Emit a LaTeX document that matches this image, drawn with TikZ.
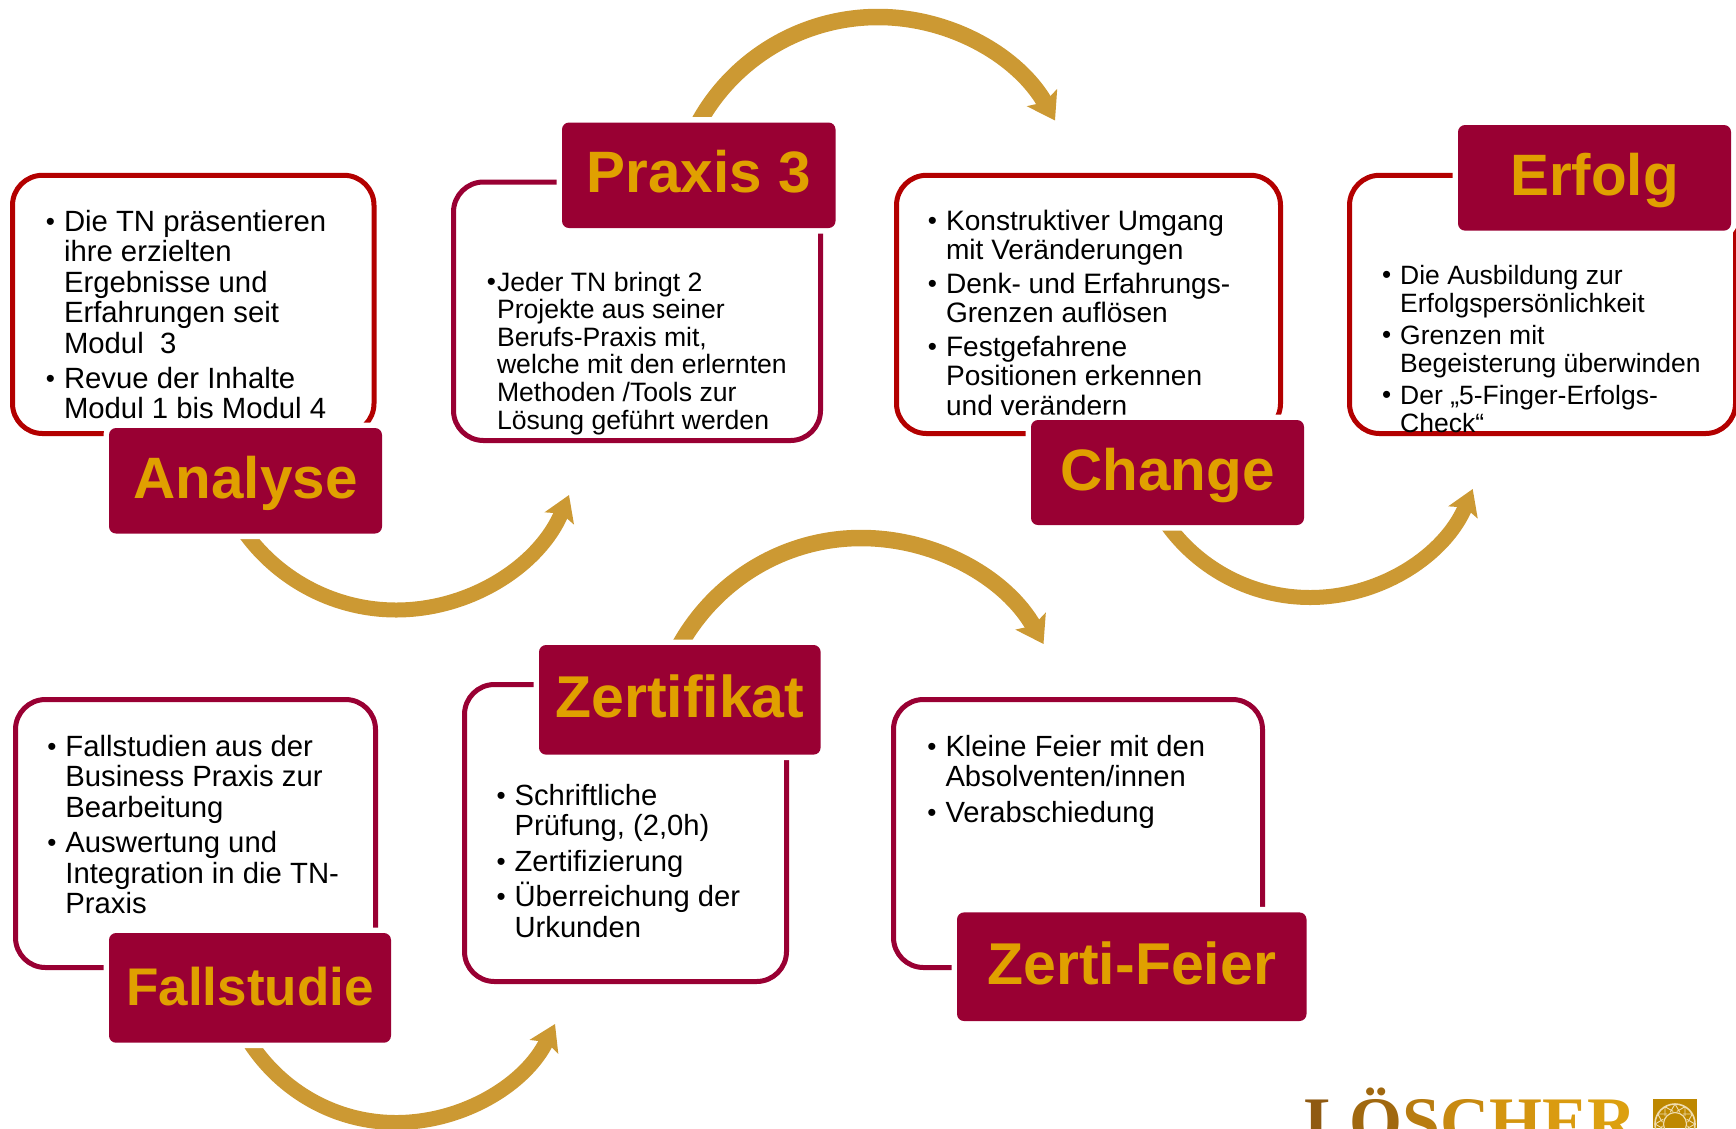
\documentclass[tikz,border=0pt]{standalone}
\usepackage{fontspec}
\setmainfont{Liberation Sans}
\newfontfamily\logofont{Liberation Serif}
\usetikzlibrary{arrows.meta}
\definecolor{crimson}{HTML}{990033}
\definecolor{darkred}{HTML}{B30000}
\definecolor{labelgold}{HTML}{E0A000}
\definecolor{arcgold}{HTML}{CC9933}
\definecolor{iconline}{HTML}{F0DDB0}
\newcommand\firstline{\rule{0pt}{20pt}}
\newcommand\smallbul{\raisebox{0.8pt}{\fontsize{26}{26}\selectfont•}}
\newcommand\bu{\llap{\smallbul\hspace{9pt}}}
\newcommand\bn{\llap{\smallbul\hspace{1pt}}}
\tikzset{
  x=1pt,y=-1pt,
  bodybox/.style={draw,rectangle,rounded corners=30pt,line width=5pt,inner sep=0pt,outer sep=0pt},
  labelbox/.style={rectangle,rounded corners=7pt,fill=crimson,text=labelgold,inner sep=0pt,outer sep=0pt,
    font=\bfseries\fontsize{58.4}{60}\selectfont,text height=35pt,text depth=0pt,
    preaction={draw=white,line width=11pt}},
  bodytext/.style={anchor=north west,inner sep=0pt,outer sep=0pt,align=left,text=black},
  thinarc/.style={draw=arcgold,line width=15pt,-{Stealth[length=25pt,width=31pt,inset=5pt]}},
  widearc/.style={draw=arcgold,line width=16.5pt,-{Stealth[length=26pt,width=34pt,inset=5pt]}},
}
\begin{document}
\begin{tikzpicture}
\useasboundingbox (0,0) rectangle (1736,1128);

% outlines
\node[bodybox,draw=darkred,minimum width=361.5pt,minimum height=258.2pt] (analyseBody) at (193.25,304.4) {};
\node[bodybox,draw=crimson,minimum width=367pt,minimum height=258.5pt] (praxisBody) at (637,311.25) {};
\node[bodybox,draw=darkred,minimum width=384pt,minimum height=258.2pt] (changeBody) at (1088.5,304.4) {};
\node[bodybox,draw=darkred,minimum width=386pt,minimum height=258.2pt] (erfolgBody) at (1542.5,304.4) {};
\node[bodybox,draw=crimson,minimum width=360pt,minimum height=268pt] (fallBody) at (195.5,833.5) {};
\node[bodybox,draw=crimson,minimum width=322pt,minimum height=297pt] (zertBody) at (625.5,833) {};
\node[bodybox,draw=crimson,minimum width=369pt,minimum height=268pt] (feierBody) at (1078,833.5) {};

% texts
\node[bodytext,font=\fontsize{29.3}{30.5}\selectfont] (analyseText) at (64,210) {\firstline\bu Die TN präsentieren\\ihre erzielten\\Ergebnisse und\\Erfahrungen seit\\Modul\ \ 3\\[4.5pt]\bu Revue der Inhalte\\Modul 1 bis Modul 4};
\node[bodytext,font=\fontsize{26.6}{27.6}\selectfont] (praxisText) at (497,271) {\firstline\bn Jeder TN bringt 2\\Projekte aus seiner\\Berufs-Praxis mit,\\welche mit den erlernten\\Methoden /Tools zur\\Lösung geführt werden};
\node[bodytext,font=\fontsize{28.1}{29.4}\selectfont] (changeText) at (946,210) {\firstline\bu Konstruktiver Umgang\\mit Veränderungen\\[4.3pt]\bu Denk- und Erfahrungs-\\Grenzen auflösen\\[4.3pt]\bu Festgefahrene\\Positionen erkennen\\und verändern};
\node[bodytext,font=\fontsize{26.5}{28}\selectfont] (erfolgText) at (1400.2,264.5) {\firstline\bu Die Ausbildung zur\\Erfolgspersönlichkeit\\[3.8pt]\bu Grenzen mit\\Begeisterung überwinden\\[3.8pt]\bu Der „5-Finger-Erfolgs-\\Check“};
\node[bodytext,font=\fontsize{29.3}{30.5}\selectfont] (fallText) at (65.4,735) {\firstline\bu Fallstudien aus der\\Business Praxis zur\\Bearbeitung\\[5pt]\bu Auswertung und\\Integration in die TN-\\Praxis};
\node[bodytext,font=\fontsize{29.2}{30.7}\selectfont] (zertText) at (514.6,784) {\firstline\bu Schriftliche\\Prüfung, (2,0h)\\[4.5pt]\bu Zertifizierung\\[4.8pt]\bu Überreichung der\\Urkunden};
\node[bodytext,font=\fontsize{29.2}{30.5}\selectfont] (feierText) at (945.5,735) {\firstline\bu Kleine Feier mit den\\Absolventen/innen\\[5pt]\bu Verabschiedung};

% connector ends; the start ends lie on the edges of the label boxes painted below
\coordinate (tipA) at (569,495);
\coordinate (tipB) at (1055,120.5);
\coordinate (tipC) at (1472.7,489);
\coordinate (tipD) at (555,1024);
\coordinate (tipE) at (1043.5,644);
\coordinate (startA) at (245.5,533.5);
\coordinate (startB) at (698.75,122.5);
\coordinate (startC) at (1167.5,525);
\coordinate (startD) at (250,1042.7);
\coordinate (startE) at (679.8,645);

\draw[thinarc] (startA) .. controls (280.5,581.4) and (336.6,610) .. (396,610) .. controls (471.5,610) and (540,564.7) .. (tipA);
\draw[widearc] (startB) .. controls (734.6,57.3) and (803.6,17) .. (878,17) .. controls (951.4,17) and (1018.7,56.6) .. (tipB);
\draw[thinarc] (startC) .. controls (1200.7,570.6) and (1253.6,597.5) .. (1310,597.5) .. controls (1381.2,597.5) and (1445.4,554.7) .. (tipC);
\draw[thinarc] (startD) .. controls (282.4,1092.2) and (336.8,1122.5) .. (396,1122.5) .. controls (463.1,1122.5) and (525.7,1084.4) .. (tipD);
\draw[widearc] (startE) .. controls (716.7,579.2) and (785.5,538) .. (861,538) .. controls (936.5,538) and (1006.5,578.2) .. (tipE);

% labels
\node[labelbox,minimum width=273pt,minimum height=105.5pt] (analyse) at (245.5,480.75) {Analyse};
\node[labelbox,minimum width=273.5pt,minimum height=105.5pt] (praxis) at (698.75,175.25) {Praxis 3};
\node[labelbox,minimum width=273pt,minimum height=105pt] (change) at (1167.5,472.5) {Change};
\node[labelbox,minimum width=273pt,minimum height=105.6pt] (erfolg) at (1594.5,177.8) {Erfolg};
\node[labelbox,minimum width=282pt,minimum height=109.7pt,font=\bfseries\fontsize{53}{55}\selectfont] (fallstudie) at (250,987.85) {Fallstudie};
\node[labelbox,minimum width=281.6pt,minimum height=109.6pt,font=\bfseries\fontsize{59}{60}\selectfont] (zertifikat) at (679.8,699.8) {Zertifikat};
\node[labelbox,minimum width=349.5pt,minimum height=108.6pt,font=\bfseries\fontsize{59}{60}\selectfont] (feier) at (1131.75,966.7) {Zerti-Feier};

% logo, cut off by the lower edge as in the picture
\begin{scope}
\clip (0,0) rectangle (1736,1128);
\node[anchor=base west,inner sep=0pt,font=\logofont\bfseries\fontsize{68}{68}\selectfont] (logo) at (1304,1144)
 {\textcolor[HTML]{8F5A12}{L}\textcolor[HTML]{A0680F}{Ö}\textcolor[HTML]{B87C10}{S}\textcolor[HTML]{C88A10}{C}\textcolor[HTML]{D4950F}{H}\textcolor[HTML]{DA9B10}{E}\textcolor[HTML]{DCA010}{R}};
\fill[color=labelgold!85!black] (1653,1099) rectangle (1697,1128);
\draw[color=iconline,line width=1.6pt] (1675,1124) circle (20);
\draw[color=iconline,line width=1.2pt] (1675,1124) circle (11.5);
\foreach \a in {0,30,...,330}{
  \draw[color=iconline,line width=.9pt] (1675,1124) ++(\a:20) -- ++(\a+150:9.5) (1675,1124) ++(\a:20) -- ++(\a+210:9.5);
}
\end{scope}
\end{tikzpicture}
\end{document}
